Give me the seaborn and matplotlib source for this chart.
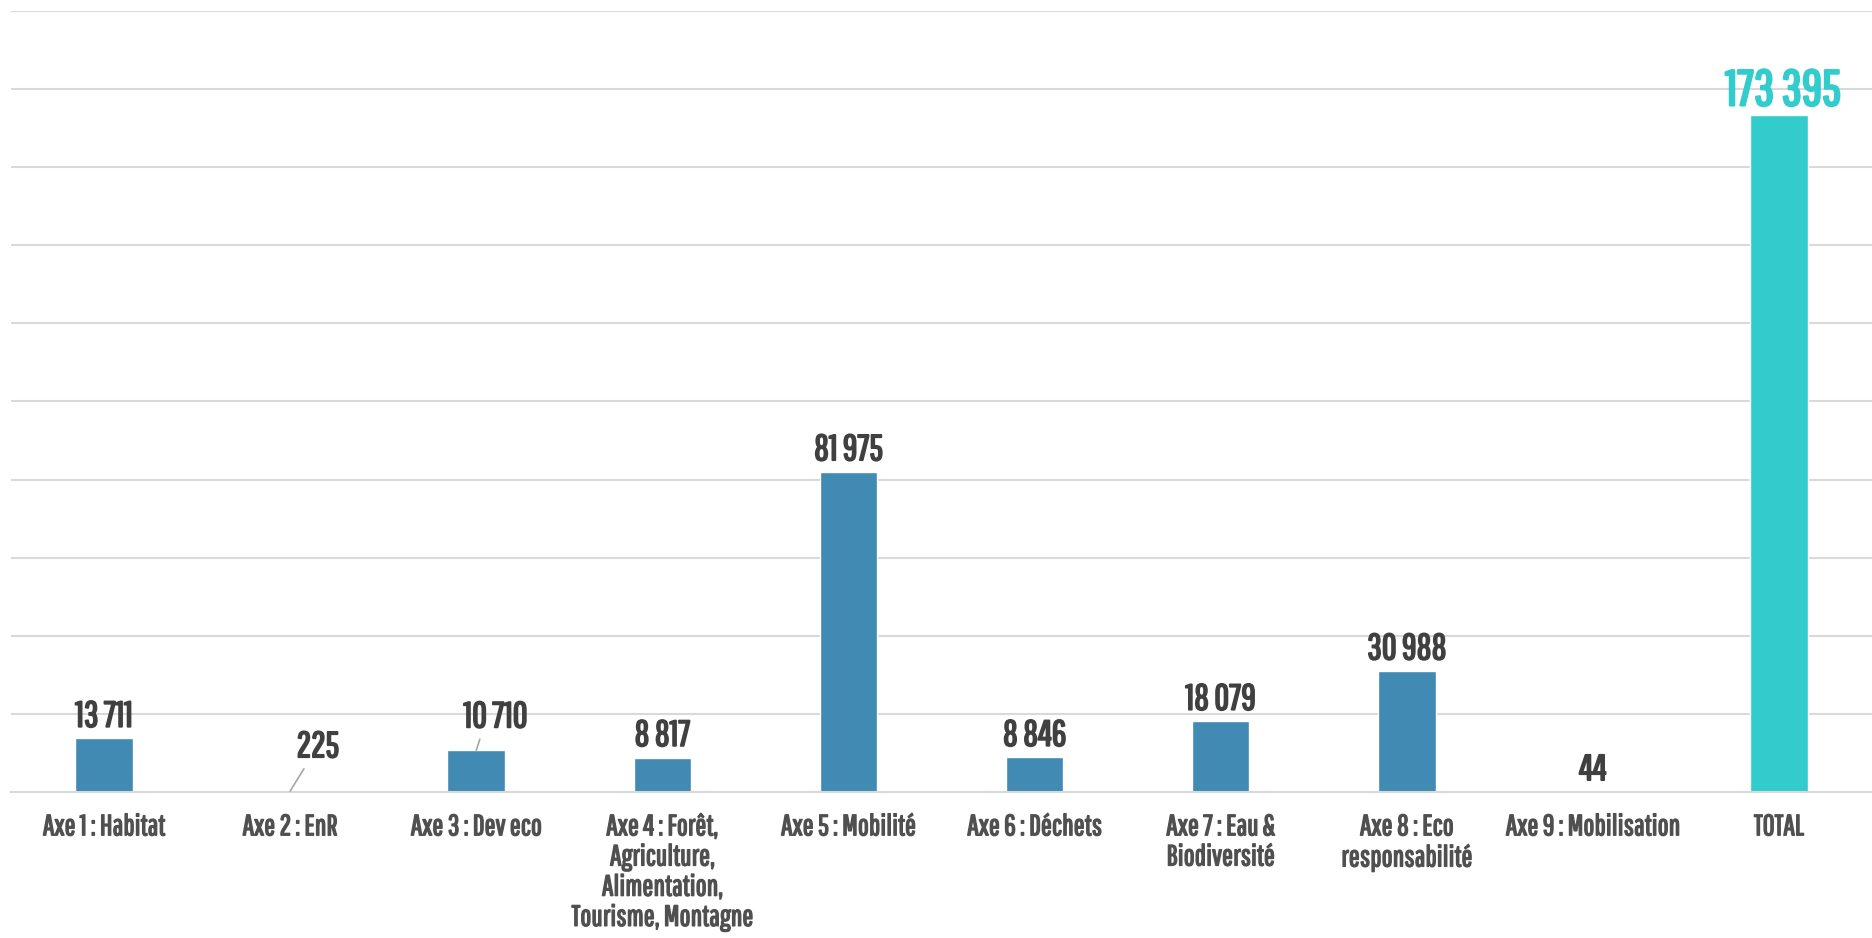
import pandas as pd
import numpy as np
import matplotlib
matplotlib.use("Agg")
import matplotlib.pyplot as plt
import matplotlib.patheffects as pe
import seaborn as sns

# Données
categories = ["Axe 1 : Habitat", "Axe 2 : EnR", "Axe 3 : Dev eco",
              "Axe 4 : Forêt,\nAgriculture,\nAlimentation,\nTourisme, Montagne",
              "Axe 5 : Mobilité", "Axe 6 : Déchets", "Axe 7 : Eau &\nBiodiversité",
              "Axe 8 : Eco\nresponsabilité", "Axe 9 : Mobilisation", "TOTAL"]
valeurs = [13711, 225, 10710, 8817, 81975, 8846, 18079, 30988, 44, 173395]
etiquettes = ["13 711", "225", "10 710", "8 817", "81 975", "8 846", "18 079", "30 988", "44", "173 395"]

bleu = "#418AB3"
turquoise = "#33CCCC"
gris_txt = "#404040"
couleurs = [bleu] * 9 + [turquoise]

sns.set_theme(style="white")
plt.rcParams['font.family'] = ['Pathway Gothic One', 'DejaVu Sans']


def gras(c, lw=1.2):
    # police condensée sans graisse bold : on épaissit avec un contour
    return [pe.withStroke(linewidth=lw, foreground=c)]


df = pd.DataFrame({"cat": categories, "val": valeurs})

fig = plt.figure(figsize=(18.72, 9.38), dpi=100)
ax = fig.add_axes([11 / 1872, 1 - 792 / 938, 1 - 11 / 1872, (792 - 11) / 938])
sns.barplot(data=df, x="cat", y="val", hue="cat", palette=couleurs, legend=False,
            width=0.31, ax=ax, saturation=1)

ax.set_ylim(0, 200000)
ax.set_xlim(-0.5, len(categories) - 0.5)
ax.set_yticks(np.arange(0, 200001, 20000))
ax.set_yticklabels([])
ax.tick_params(axis='y', length=0)
ax.tick_params(axis='x', length=0, pad=16)
ax.yaxis.grid(True, color="#D9D9D9", linewidth=1.5)
ax.set_axisbelow(True)
for s in ["top", "left", "right"]:
    ax.spines[s].set_visible(False)
ax.spines["bottom"].set_color("#D9D9D9")
ax.spines["bottom"].set_linewidth(1.5)
ax.set_xlabel("")
ax.set_ylabel("")
for lab in ax.get_xticklabels():
    lab.set_fontsize(21)
    lab.set_color("#505050")
    lab.set_linespacing(1.2)
    lab.set_verticalalignment('top')
    lab.set_path_effects(gras("#505050", 1.0))

# Étiquettes de données (décalages en points)
decalages = {1: (20, 32), 2: (14, 24)}
for i, (v, t) in enumerate(zip(valeurs, etiquettes)):
    if i == len(valeurs) - 1:
        ax.annotate(t, xy=(i, v), xytext=(3, 17), textcoords="offset points",
                    ha="center", va="center", fontsize=36, color=turquoise,
                    path_effects=gras(turquoise, 1.8))
    elif i in decalages:
        ax.annotate(t, xy=(i, v), xytext=decalages[i], textcoords="offset points",
                    ha="center", va="center", fontsize=26, color=gris_txt,
                    path_effects=gras(gris_txt, 1.3),
                    arrowprops=dict(arrowstyle="-", color="#A6A6A6", lw=1.2,
                                    shrinkA=2, shrinkB=0, relpos=(0.3, 0.1)))
    else:
        ax.annotate(t, xy=(i, v), xytext=(0, 16), textcoords="offset points",
                    ha="center", va="center", fontsize=26, color=gris_txt,
                    path_effects=gras(gris_txt, 1.3))

fig.savefig("out.png", dpi=100)
